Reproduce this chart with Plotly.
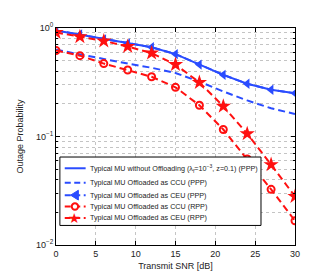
import plotly.graph_objects as go

snr = [0, 3, 6, 9, 12, 15, 18, 21, 24, 27, 30]
no_offload_ppp = [0.95, 0.87, 0.785, 0.72, 0.665, 0.575, 0.46, 0.37, 0.306, 0.27, 0.25]
ccu_ppp = [0.63, 0.57, 0.515, 0.47, 0.43, 0.385, 0.32, 0.26, 0.215, 0.182, 0.161]
ceu_ppp = [0.95, 0.87, 0.785, 0.72, 0.665, 0.575, 0.46, 0.37, 0.306, 0.27, 0.25]
ccu_rpp = [0.62, 0.556, 0.47, 0.41, 0.355, 0.284, 0.194, 0.116, 0.062, 0.0326, 0.0167]
ceu_rpp = [0.91, 0.83, 0.76, 0.675, 0.587, 0.46, 0.315, 0.19, 0.106, 0.055, 0.028]

x_ticks = [0, 5, 10, 15, 20, 25, 30]
y_major = [0.01, 0.1, 1]
y_major_text = ["10<sup>−2</sup>", "10<sup>−1</sup>", "10<sup>0</sup>"]

names = [
    "Typical MU without Offloading (λ<sub>f</sub>=10<sup>−3</sup>, z=0.1) (PPP)",
    "Typical MU Offloaded as CCU (PPP)",
    "Typical MU Offloaded as CEU (PPP)",
    "Typical MU Offloaded as CCU (RPP)",
    "Typical MU Offloaded as CEU (RPP)",
]

BLUE = "#2a4cff"
RED = "#ff1010"
DASH = "7px,4px"

fig = go.Figure()
fig.add_trace(go.Scatter(x=snr, y=no_offload_ppp, mode="lines", name=names[0],
                         line=dict(color=BLUE, width=2)))
fig.add_trace(go.Scatter(x=snr, y=ccu_ppp, mode="lines", name=names[1],
                         line=dict(color=BLUE, width=2, dash=DASH)))
fig.add_trace(go.Scatter(x=snr, y=ceu_ppp, mode="lines+markers", name=names[2],
                         line=dict(color=BLUE, width=2, dash=DASH),
                         marker=dict(symbol="triangle-left", size=9, color=BLUE)))
fig.add_trace(go.Scatter(x=snr, y=ccu_rpp, mode="lines+markers", name=names[3],
                         line=dict(color=RED, width=2, dash=DASH),
                         marker=dict(symbol="circle-open", size=7, color=RED, line=dict(width=2))))
fig.add_trace(go.Scatter(x=snr, y=ceu_rpp, mode="lines+markers", name=names[4],
                         line=dict(color=RED, width=2, dash=DASH),
                         marker=dict(symbol="star", size=11.5, color=RED)))

y_minor = [m * 10 ** e for e in (-2, -1) for m in range(2, 10)]

# ---- hand-built legend (compact, as in the reference) ----
W, H = 316, 273
L, R, T, B = 41, 29, 20, 31
PW, PH = W - L - R, H - T - B


def px(x):
    return (x - L) / PW


def py(y):
    return (H - B - y) / PH


shapes = []
annotations = []
shapes.append(dict(type="rect", xref="paper", yref="paper",
                   x0=px(45), x1=px(252), y0=py(222), y1=py(152),
                   fillcolor="white", line=dict(color="black", width=1), layer="above"))
entry_y = [163.5, 178.3, 191, 202.6, 214.3]
styles = [(BLUE, None, None), (BLUE, "dash", None), (BLUE, "dash", "tri"),
          (RED, "dash", "circ"), (RED, "dash", "star")]
for name, yy, (col, dash, mk) in zip(names, entry_y, styles):
    shapes.append(dict(type="line", xref="paper", yref="paper",
                       x0=px(50), x1=px(71.5), y0=py(yy), y1=py(yy),
                       line=dict(color=col, width=2, dash="6px,3.5px" if dash else "solid"),
                       layer="above"))
    cx = 60.5
    if mk == "tri":
        path = "M %f %f L %f %f L %f %f Z" % (px(cx - 4.5), py(yy), px(cx + 3.5), py(yy - 5),
                                              px(cx + 3.5), py(yy + 5))
        shapes.append(dict(type="path", xref="paper", yref="paper", path=path,
                           fillcolor=col, line=dict(color=col, width=1), layer="above"))
    elif mk == "circ":
        shapes.append(dict(type="circle", xref="paper", yref="paper",
                           x0=px(cx - 3.3), x1=px(cx + 3.3), y0=py(yy + 3.3), y1=py(yy - 3.3),
                           fillcolor="white", line=dict(color=col, width=2), layer="above"))
    elif mk == "star":
        annotations.append(dict(xref="paper", yref="paper", x=px(cx), y=py(yy + 0.5),
                                text="★", showarrow=False, xanchor="center", yanchor="middle",
                                font=dict(size=14, color=col)))
    annotations.append(dict(xref="paper", yref="paper", x=px(73.5), y=py(yy),
                            text=name, showarrow=False, xanchor="left", yanchor="middle",
                            font=dict(size=7.2, color="#222")))

fig.update_layout(
    width=W, height=H,
    margin=dict(l=L, r=R, t=T, b=B),
    paper_bgcolor="white", plot_bgcolor="white",
    font=dict(family="Liberation Sans, Arial, sans-serif", size=9, color="#222"),
    showlegend=False,
    shapes=shapes,
    annotations=annotations,
    xaxis=dict(range=[0, 30], tickvals=x_ticks,
               showline=True, linecolor="black", linewidth=1, mirror="ticks",
               ticks="inside", ticklen=4, tickcolor="black",
               showgrid=True, gridcolor="#c4c4c4", griddash="dot", gridwidth=1,
               zeroline=False,
               title=dict(text="Transmit SNR [dB]", standoff=4, font=dict(size=9))),
    yaxis=dict(type="log", range=[-2, 0], tickvals=y_major, ticktext=y_major_text,
               showline=True, linecolor="black", linewidth=1, mirror="ticks",
               ticks="inside", ticklen=4, tickcolor="black",
               showgrid=True, gridcolor="#c4c4c4", griddash="dot", gridwidth=1,
               minor=dict(tickmode="array", tickvals=y_minor, ticks="inside", ticklen=2,
                          tickcolor="black", showgrid=True, gridcolor="#c4c4c4",
                          griddash="dot", gridwidth=1),
               zeroline=False,
               title=dict(text="Outage Probability", standoff=10, font=dict(size=9))),
)

fig.write_html("out.html")
